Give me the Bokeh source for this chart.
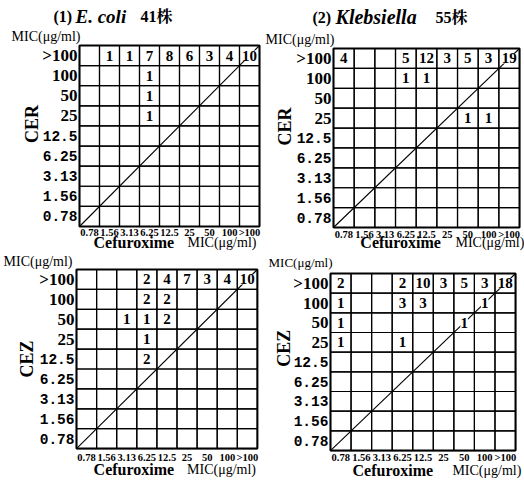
import math

from bokeh.plotting import figure
from bokeh.layouts import column, row
from bokeh.models import Label, ColumnDataSource, Range1d
from bokeh.embed import file_html
from bokeh.resources import INLINE
from bokeh.core.properties import value

# MIC steps (µg/ml) shared by both axes, lowest first
mic_levels = ["0.78", "1.56", "3.13", "6.25", "12.5", "25", "50", "100", ">100"]

# Strain counts: row = comparator MIC, list = counts per cefuroxime MIC column (0 = empty)
ecoli_cer = {
    ">100": [0, 1, 1, 7, 8, 6, 3, 4, 10],
    "100":  [0, 0, 0, 1, 0, 0, 0, 0, 0],
    "50":   [0, 0, 0, 1, 0, 0, 0, 0, 0],
    "25":   [0, 0, 0, 1, 0, 0, 0, 0, 0],
}
kleb_cer = {
    ">100": [4, 0, 0, 5, 12, 3, 5, 3, 19],
    "100":  [0, 0, 0, 1, 1, 0, 0, 0, 0],
    "25":   [0, 0, 0, 0, 0, 0, 1, 1, 0],
}
ecoli_cez = {
    ">100": [0, 0, 0, 2, 4, 7, 3, 4, 10],
    "100":  [0, 0, 0, 2, 2, 0, 0, 0, 0],
    "50":   [0, 0, 1, 1, 2, 0, 0, 0, 0],
    "25":   [0, 0, 0, 1, 0, 0, 0, 0, 0],
    "12.5": [0, 0, 0, 2, 0, 0, 0, 0, 0],
}
kleb_cez = {
    ">100": [2, 0, 0, 2, 10, 3, 5, 3, 18],
    "100":  [1, 0, 0, 3, 3, 0, 0, 1, 0],
    "50":   [1, 0, 0, 0, 0, 0, 1, 0, 0],
    "25":   [1, 0, 0, 1, 0, 0, 0, 0, 0],
}

SERIF = "Liberation Serif"
MONO = "Liberation Mono"
CJK = "'Liberation Serif', 'Noto Serif CJK JP', 'Noto Sans CJK JP'"


def add_label(p, x, y, text, size, style="normal", align="left", font=SERIF, angle=0.0):
    p.add_layout(Label(x=x, y=y, text=text, text_font=font, text_font_size=size,
                       text_font_style=style, text_align=align, angle=angle,
                       text_baseline="middle", text_color="black"))


def panel(counts, drug, size, grid_box, xtick_y, drug_xy, mic_xy, cef_xy, mic_size="14px"):
    """size = (w, h) in px; grid_box = (left, top, cell_w, cell_h) in px."""
    n = len(mic_levels)
    w, h = size
    gl, gt, cw, ch = grid_box
    p = figure(width=w, height=h,
               x_range=Range1d(-gl / cw, (w - gl) / cw),
               y_range=Range1d(-(h - gt - n * ch) / ch, n + gt / ch),
               output_backend="svg", toolbar_location=None, title=None,
               x_axis_location=None, y_axis_location=None,
               min_border=0, background_fill_color="white",
               border_fill_color="white")
    p.grid.visible = False
    p.outline_line_color = None

    # cells of the MIC table
    cx = [c + 0.5 for r in range(n) for c in range(n)]
    cy = [r + 0.5 for r in range(n) for c in range(n)]
    p.rect(x=cx, y=cy, width=1, height=1, fill_color=None,
           line_color="black", line_width=1.2)
    p.rect(x=[n / 2], y=[n / 2], width=n, height=n, fill_color=None,
           line_color="black", line_width=2)

    # line of equal MIC
    p.line(x=[0, n], y=[0, n], line_color="black", line_width=1.1)

    # tick labels: cefuroxime along the bottom, comparator up the left side
    centers = [i + 0.5 for i in range(n)]
    p.text(x=centers, y=[xtick_y] * n, text=mic_levels, text_align="center",
           text_baseline="middle", text_font=value(SERIF),
           text_font_size="10.5px", text_font_style="bold", text_color="black")
    ysrc = ColumnDataSource(dict(
        x=[-0.1] * n, y=centers, text=mic_levels,
        font=[MONO if "." in lab else SERIF for lab in mic_levels],
        size=["14.5px" if "." in lab else "17px" for lab in mic_levels]))
    p.text(x="x", y="y", text="text", source=ysrc, text_align="right",
           text_baseline="middle", text_font="font", text_font_size="size",
           text_font_style="bold", text_color="black")

    xs, ys, labels = [], [], []
    for row_label, vals in counts.items():
        r = mic_levels.index(row_label)
        for c, v in enumerate(vals):
            if v:
                xs.append(c + 0.5)
                ys.append(r + 0.5)
                labels.append(str(v))
    src = ColumnDataSource(dict(x=xs, y=ys, text=labels))
    p.text(x="x", y="y", text="text", source=src, text_align="center",
           text_baseline="middle", text_font=value(SERIF), text_font_size="15px",
           text_font_style="bold", text_color="black",
           background_fill_color="white")

    add_label(p, drug_xy[0], drug_xy[1], drug, "18px", style="bold",
              align="center", angle=math.pi / 2)
    add_label(p, mic_xy[0], mic_xy[1], "MIC(μg/ml)", mic_size, align="right")
    add_label(p, cef_xy[0], cef_xy[1], "Cefuroxime", "16px", style="bold")
    add_label(p, cef_xy[2], cef_xy[1], "MIC(μg/ml)", "14px")
    return p


p1 = panel(ecoli_cer, "CER", (262, 252), (79, 45, 20.0, 20.11), -0.3,
           (-2.4, 5.1), (0.05, 9.45), (0.7, -0.8, 5.4))
p2 = panel(kleb_cer, "CER", (262, 252), (71, 48, 20.67, 19.89), -0.35,
           (-2.37, 5.08), (0.05, 9.45), (1.3, -0.75, 5.9))
p3 = panel(ecoli_cez, "CEZ", (262, 233), (76, 17, 20.1, 19.9), -0.45,
           (-2.45, 4.5), (-0.2, 9.4), (0.85, -1.05, 5.5))
p4 = panel(kleb_cez, "CEZ", (262, 233), (68, 21, 20.56, 19.67), -0.36,
           (-2.24, 5.2), (0.1, 9.55), (1.07, -1.02, 5.93), mic_size="13px")

# panel headings
add_label(p1, -1.3, 10.44, "(1)", "16px", style="bold")
add_label(p1, -0.2, 10.44, "E. coli", "19px", style="bold italic")
add_label(p1, 3.05, 10.44, "41株", "16px", style="bold", font=CJK)
add_label(p2, -1.02, 10.56, "(2)", "16px", style="bold")
add_label(p2, 0.1, 10.56, "Klebsiella", "20px", style="bold italic")
add_label(p2, 4.93, 10.56, "55株", "16px", style="bold", font=CJK)

layout = column(row(p1, p2, spacing=0), row(p3, p4, spacing=0), spacing=0)
open("out.html", "w").write(file_html(layout, INLINE))
